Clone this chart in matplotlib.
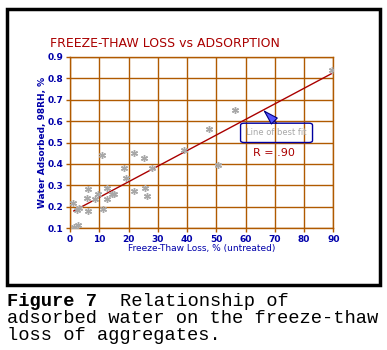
#Freeze-thaw loss vs water adsorption scatter with fit line

import matplotlib
matplotlib.use("Agg")
import matplotlib.pyplot as plt
from matplotlib.patches import Rectangle, FancyBboxPatch

# freeze-thaw loss, % (untreated)
loss = [1.0, 1.5, 2.7, 2.5, 3.2, 6.3, 5.7, 6.3, 8.5, 9.7, 10.9, 11.3, 12.6,
        12.8, 14.3, 15.0, 18.3, 19.0, 21.8, 21.9, 25.4, 25.6, 26.3, 28.1,
        38.8, 47.6, 50.5, 56.3, 89.5]
# water adsorbed at 98% RH, %
water = [0.22, 0.105, 0.115, 0.185, 0.193, 0.283, 0.243, 0.182, 0.235, 0.259,
         0.443, 0.19, 0.29, 0.235, 0.26, 0.26, 0.382, 0.333, 0.272, 0.452,
         0.43, 0.29, 0.252, 0.382, 0.465, 0.561, 0.393, 0.65, 0.838]

# line of best fit, end points as drawn
fit_x = [1.3, 89.4]
fit_y = [0.181, 0.821]

x_ticks = [0, 10, 20, 30, 40, 50, 60, 70, 80, 90]
y_ticks = [0.1, 0.2, 0.3, 0.4, 0.5, 0.6, 0.7, 0.8, 0.9]

BROWN = "#b05a00"
BLUE = "#0000aa"
RED = "#aa0000"
GRAY = "#a8a8a8"

fig = plt.figure(figsize=(3.87, 3.5), dpi=100)

# black frame around the chart
fig.patches.append(Rectangle((6.5 / 387, 1 - 285 / 350), (380 - 6.5) / 387,
                             (285 - 9) / 350, transform=fig.transFigure,
                             fill=False, edgecolor="black", linewidth=2.5))

ax = fig.add_axes([70 / 387, 1 - 228.3 / 350, (333.3 - 70) / 387,
                   (228.3 - 56.7) / 350])
ax.set_xlim(0, 90)
ax.set_ylim(0.1, 0.9)
ax.set_xticks(x_ticks)
ax.set_yticks(y_ticks)
ax.set_xticklabels([str(t) for t in x_ticks])
ax.set_yticklabels(["%.1f" % t for t in y_ticks])
ax.grid(True, color=BROWN, linewidth=1.0)
for s in ax.spines.values():
    s.set_color(BROWN)
    s.set_linewidth(1.0)
ax.tick_params(colors=BROWN, length=3, width=1.0, pad=1.5, labelcolor=BLUE,
               labelsize=6.5)
for lab in ax.get_xticklabels() + ax.get_yticklabels():
    lab.set_fontweight("bold")

ax.plot(fit_x, fit_y, color=RED, linewidth=1.0, zorder=3)
ax.plot(loss, water, linestyle="none", marker=(6, 2, 0), markersize=5,
        markeredgewidth=1.0, color=GRAY, zorder=4)

ax.set_xlabel("Freeze-Thaw Loss, % (untreated)", color=BLUE, fontsize=6.5,
              labelpad=0.5)
ax.set_ylabel("Water Adsorbed, 98RH, %", color=BLUE, fontsize=6.5,
              fontweight="bold", labelpad=0.5)

# annotation box and arrow
box = FancyBboxPatch((58.3, 0.500), 24.6, 0.090,
                     boxstyle="round,pad=0,rounding_size=1.2",
                     mutation_aspect=0.008, fill=False, edgecolor="#0000a0",
                     linewidth=1.0, zorder=5)
ax.add_patch(box)
ax.text(70.6, 0.545, "Line of best fit", color=GRAY, fontsize=6,
        ha="center", va="center", zorder=6)
ax.annotate("", xy=(66.0, 0.652), xytext=(70.6, 0.590),
            arrowprops=dict(arrowstyle="-|>,head_length=1.0,head_width=0.3",
                            ec="#000080", fc="#5555ff", lw=0.8,
                            mutation_scale=10, shrinkA=0, shrinkB=0),
            zorder=6)
ax.text(69.7, 0.452, "R = .90", color=RED, fontsize=8, ha="center",
        va="center", zorder=6)

fig.text(50 / 387, 1 - 46.7 / 350, "FREEZE-THAW LOSS vs ADSORPTION",
         color=RED, fontsize=9, ha="left", va="baseline")

# figure caption
mono = ["Liberation Mono", "DejaVu Sans Mono"]
fig.text(7 / 387, 1 - 306 / 350, "Figure 7", fontsize=13.5, family=mono,
         fontweight="bold", va="baseline")
fig.text(7 / 387 + 10 * 11.3 / 387, 1 - 306 / 350, "Relationship of",
         fontsize=13.5, family=mono, va="baseline")
fig.text(7 / 387, 1 - 323 / 350, "adsorbed water on the freeze-thaw",
         fontsize=13.5, family=mono, va="baseline")
fig.text(7 / 387, 1 - 340 / 350, "loss of aggregates.", fontsize=13.5,
         family=mono, va="baseline")

fig.savefig("out.png", dpi=100)
